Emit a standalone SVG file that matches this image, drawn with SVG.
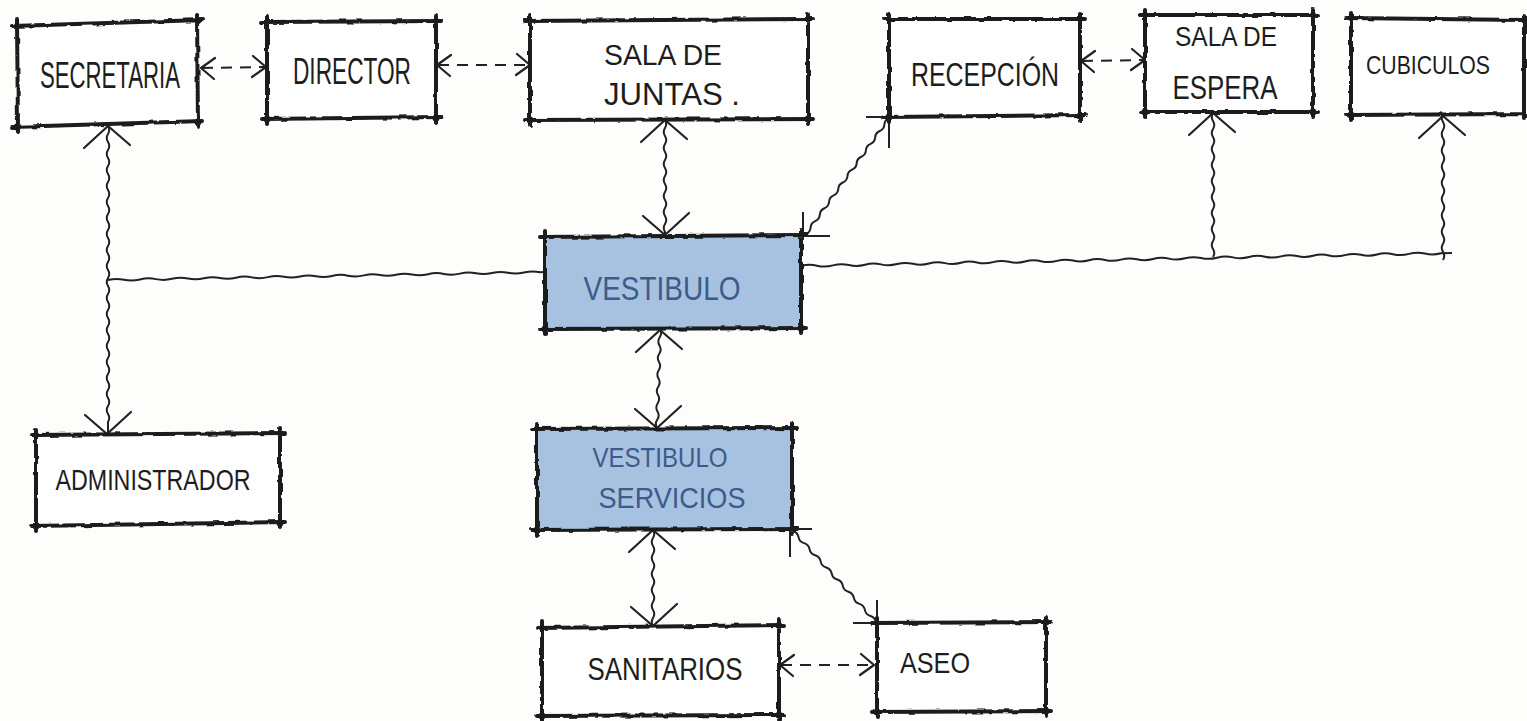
<svg xmlns="http://www.w3.org/2000/svg" width="1527" height="721" viewBox="0 0 1527 721">
<style>
.bg{fill:#fdfdfc}
.fillw{fill:#ffffff}
.fillb{fill:#a7c1e1}
.edge{fill:none;stroke:#1b1b1b;stroke-width:4;stroke-linecap:round;filter:url(#rough)}
.dot{fill:#1b1b1b}
.wave{fill:none;stroke:#222;stroke-width:2;stroke-linejoin:round}
.dash{fill:none;stroke:#222;stroke-width:2;stroke-dasharray:11 8}
.tick{fill:none;stroke:#222;stroke-width:2}
.ah{fill:none;stroke:#222;stroke-width:2.2;stroke-linecap:round;stroke-linejoin:round}
.lbl{font-family:"Liberation Sans Narrow","Liberation Sans","DejaVu Sans Condensed",sans-serif;fill:#1d1d1d;text-anchor:middle}
.lblb{fill:#3d5b8a}
</style>
<defs>
<filter id="rough" x="-10%" y="-10%" width="120%" height="120%">
<feTurbulence type="fractalNoise" baseFrequency="0.09" numOctaves="2" seed="4"/>
<feDisplacementMap in="SourceGraphic" scale="3.5" xChannelSelector="R" yChannelSelector="G"/>
</filter>
<path id="ah" class="ah" d="M-24,22 L0,0 L22,19"/>
<path id="ahs" class="ah" d="M-11,13 L0,0 L10,14"/>
</defs>
<rect class="bg" x="0" y="0" width="1527" height="721"/>

<g id="connectors">
<path class="dash" d="M202,68 L264,67"/>
<path class="dash" d="M438,65 L529,65"/>
<path class="dash" d="M1082,61 L1144,60"/>
<path class="dash" d="M781,665 L873,665"/>
<use href="#ahs" transform="translate(201,68) rotate(-90)"/>
<use href="#ahs" transform="translate(266,67) rotate(90)"/>
<use href="#ahs" transform="translate(437,65) rotate(-90)"/>
<use href="#ahs" transform="translate(530,65) rotate(90)"/>
<use href="#ahs" transform="translate(1081,61) rotate(-90)"/>
<use href="#ahs" transform="translate(1145,60) rotate(90)"/>
<use href="#ahs" transform="translate(780,665) rotate(-90)"/>
<use href="#ahs" transform="translate(874,665) rotate(90)"/>

<path class="wave" d="M108,126 q2.5,4 0,8 t0,8 t0,8 t0,8 t0,8 t0,8 t0,8 t0,8 t0,8 t0,8 t0,8 t0,8 t0,8 t0,8 t0,8 t0,8 t0,8 t0,8 t0,8 t0,8 t0,8 t0,8 t0,8 t0,8 t0,8 t0,8 t0,8 t0,8 t0,8 t0,8 t0,8 t0,8 t0,8 t0,8 t0,8 t0,8 t0,8 L108,434"/>
<use href="#ah" transform="translate(108,126)"/>
<use href="#ah" transform="translate(107,434) rotate(180)"/>
<path class="wave" d="M108,280 q8,-2 16,-0.29 t16,-0.29 t16,-0.29 t16,-0.29 t16,-0.29 t16,-0.29 t16,-0.29 t16,-0.29 t16,-0.29 t16,-0.29 t16,-0.29 t16,-0.29 t16,-0.29 t16,-0.29 t16,-0.29 t16,-0.29 t16,-0.29 t16,-0.29 t16,-0.29 t16,-0.29 t16,-0.29 t16,-0.29 t16,-0.29 t16,-0.29 t16,-0.29 t16,-0.29 t16,-0.29 L545,272"/>

<path class="wave" d="M665,120 q2.5,4 0,8 t0,8 t0,8 t0,8 t0,8 t0,8 t0,8 t0,8 t0,8 t0,8 t0,8 t0,8 t0,8 t0,8 L665,236"/>
<use href="#ah" transform="translate(665,120)"/>
<use href="#ah" transform="translate(665,235) rotate(180)"/>

<path class="wave" d="M806,234 q4.33,-1.76 4.61,-6.44 t4.61,-6.44 t4.61,-6.44 t4.61,-6.44 t4.61,-6.44 t4.61,-6.44 t4.61,-6.44 t4.61,-6.44 t4.61,-6.44 t4.61,-6.44 t4.61,-6.44 t4.61,-6.44 t4.61,-6.44 t4.61,-6.44 t4.61,-6.44 t4.61,-6.44 t4.61,-6.44 t4.61,-6.44"/>
<path class="tick" d="M801,236 L830,236 M803,212 L803,240 M889,116 L889,148 M866,117 L889,117"/>

<path class="wave" d="M801,266 q8,-2.2 16,-0.32 t16,-0.32 t16,-0.32 t16,-0.32 t16,-0.32 t16,-0.32 t16,-0.32 t16,-0.32 t16,-0.32 t16,-0.32 t16,-0.32 t16,-0.32 t16,-0.32 t16,-0.32 t16,-0.32 t16,-0.32 t16,-0.32 t16,-0.32 t16,-0.32 t16,-0.32 t16,-0.32 t16,-0.32 t16,-0.32 t16,-0.32 t16,-0.32 t16,-0.32 t16,-0.32 t16,-0.32 t16,-0.32 t16,-0.32 t16,-0.32 t16,-0.32 t16,-0.32 t16,-0.32 t16,-0.32 t16,-0.32 t16,-0.32 t16,-0.32 t16,-0.32 t16,-0.32 L1452,253"/>
<path class="wave" d="M1213,257 q2.5,-4 0,-8 t0,-8 t0,-8 t0,-8 t0,-8 t0,-8 t0,-8 t0,-8 t0,-8 t0,-8 t0,-8 t0,-8 t0,-8 t0,-8 t0,-8 t0,-8 t0,-8 t0,-8"/>
<use href="#ah" transform="translate(1213,113)"/>
<path class="wave" d="M1443,260 q2.5,-4.06 0,-8.12 t0,-8.12 t0,-8.12 t0,-8.12 t0,-8.12 t0,-8.12 t0,-8.12 t0,-8.12 t0,-8.12 t0,-8.12 t0,-8.12 t0,-8.12 t0,-8.12 t0,-8.12 t0,-8.12 t0,-8.12 t0,-8.12 t0,-8.12"/>
<use href="#ah" transform="translate(1443,116)"/>

<path class="wave" d="M660,329 q2.5,4.1 -0.25,8.25 t-0.25,8.25 t-0.25,8.25 t-0.25,8.25 t-0.25,8.25 t-0.25,8.25 t-0.25,8.25 t-0.25,8.25 t-0.25,8.25 t-0.25,8.25 t-0.25,8.25 t-0.25,8.25"/>
<use href="#ah" transform="translate(660,330)"/>
<use href="#ah" transform="translate(657,428) rotate(180)"/>

<path class="wave" d="M653,530 q2.5,4 0,8 t0,8 t0,8 t0,8 t0,8 t0,8 t0,8 t0,8 t0,8 t0,8 t0,8 t0,8"/>
<use href="#ah" transform="translate(653,530)"/>
<use href="#ah" transform="translate(653,626) rotate(180)"/>

<path class="wave" d="M793,531 q4.62,1.34 5.53,6.07 t5.53,6.07 t5.53,6.07 t5.53,6.07 t5.53,6.07 t5.53,6.07 t5.53,6.07 t5.53,6.07 t5.53,6.07 t5.53,6.07 t5.53,6.07 t5.53,6.07 t5.53,6.07 t5.53,6.07 t5.53,6.07"/>
<path class="tick" d="M790,529 L790,557 M792,529 L812,529 M853,623 L875,623 M877,600 L877,623"/>
</g>

<g id="secretaria">
<rect class="fillw" x="17" y="23" width="182" height="100"/>
<path class="edge" d="M12,26 L203,20 M197,15 L198,127 M203,121 L12,127 M18,131 L17,19"/>
<circle class="dot" cx="198" cy="21" r="3"/><circle class="dot" cx="198" cy="122" r="3.5"/><circle class="dot" cx="17" cy="127" r="3.5"/><circle class="dot" cx="17" cy="26" r="3"/>
<text class="lbl" x="110" y="88" font-size="36" textLength="140" lengthAdjust="spacingAndGlyphs">SECRETARIA</text>
</g>

<g id="director">
<rect class="fillw" x="267" y="21" width="169" height="97"/>
<path class="edge" d="M262,22 L441,21 M436,16 L436,122 M441,117 L262,119 M267,124 L267,16"/>
<circle class="dot" cx="436" cy="21" r="3"/><circle class="dot" cx="436" cy="118" r="3.5"/><circle class="dot" cx="267" cy="119" r="3.5"/>
<text class="lbl" x="352" y="84" font-size="36" textLength="118" lengthAdjust="spacingAndGlyphs">DIRECTOR</text>
</g>

<g id="sala-juntas">
<rect class="fillw" x="530" y="20" width="278" height="99"/>
<path class="edge" d="M525,21 L813,19 M808,14 L808,124 M813,119 L525,120 M530,126 L530,15"/>
<circle class="dot" cx="808" cy="19" r="3"/><circle class="dot" cx="808" cy="119" r="3.5"/><circle class="dot" cx="530" cy="120" r="3.5"/>
<text class="lbl" x="663" y="65" font-size="30" textLength="118" lengthAdjust="spacingAndGlyphs">SALA DE</text>
<text class="lbl" x="672" y="105" font-size="32" textLength="136" lengthAdjust="spacingAndGlyphs">JUNTAS .</text>
</g>

<g id="recepcion">
<rect class="fillw" x="889" y="18" width="191" height="98"/>
<path class="edge" d="M884,19 L1085,19 M1080,14 L1080,121 M1085,115 L884,117 M889,122 L889,14"/>
<circle class="dot" cx="1080" cy="19" r="3"/><circle class="dot" cx="1080" cy="116" r="3.5"/><circle class="dot" cx="889" cy="117" r="3.5"/>
<text class="lbl" x="985" y="86" font-size="34" textLength="148" lengthAdjust="spacingAndGlyphs">RECEPCIÓN</text>
</g>

<g id="sala-espera">
<rect class="fillw" x="1145" y="15" width="168" height="97"/>
<path class="edge" d="M1140,15 L1318,15 M1313,10 L1313,117 M1318,112 L1140,112 M1145,117 L1145,10"/>
<circle class="dot" cx="1313" cy="15" r="3"/><circle class="dot" cx="1313" cy="112" r="3.5"/><circle class="dot" cx="1145" cy="112" r="3.5"/><circle class="dot" cx="1145" cy="15" r="3"/>
<text class="lbl" x="1226" y="46" font-size="28" textLength="102" lengthAdjust="spacingAndGlyphs">SALA DE</text>
<text class="lbl" x="1225" y="99" font-size="34" textLength="105" lengthAdjust="spacingAndGlyphs">ESPERA</text>
</g>

<g id="cubiculos">
<rect class="fillw" x="1351" y="17" width="173" height="98"/>
<path class="edge" d="M1346,18 L1524,20 M1524,114 L1346,115 M1351,120 L1351,13 M1524,16 L1524,118"/>
<circle class="dot" cx="1351" cy="115" r="3.5"/><circle class="dot" cx="1351" cy="18" r="3"/>
<text class="lbl" x="1428" y="74" font-size="26" textLength="124" lengthAdjust="spacingAndGlyphs">CUBICULOS</text>
</g>

<g id="vestibulo">
<rect class="fillb" x="545" y="236" width="256" height="92"/>
<path class="edge" d="M540,237 L806,235 M801,230 L801,333 M806,328 L540,329 M545,334 L545,231"/>
<circle class="dot" cx="801" cy="328" r="3.5"/><circle class="dot" cx="545" cy="329" r="3.5"/>
<text class="lbl lblb" x="662" y="300" font-size="34" textLength="157" lengthAdjust="spacingAndGlyphs">VESTIBULO</text>
</g>

<g id="administrador">
<rect class="fillw" x="36" y="434" width="244" height="92"/>
<path class="edge" d="M31,435 L285,433 M280,428 L280,527 M285,522 L31,526 M36,531 L36,429"/>
<circle class="dot" cx="280" cy="433" r="3"/><circle class="dot" cx="280" cy="523" r="3.5"/><circle class="dot" cx="36" cy="526" r="3.5"/><circle class="dot" cx="36" cy="435" r="3"/>
<text class="lbl" x="153" y="490" font-size="30" textLength="195" lengthAdjust="spacingAndGlyphs">ADMINISTRADOR</text>
</g>

<g id="vestibulo-servicios">
<rect class="fillb" x="537" y="429" width="255" height="100"/>
<path class="edge" d="M532,429 L797,428 M792,423 L792,534 M797,529 L532,530 M537,535 L537,424"/>
<circle class="dot" cx="792" cy="428" r="3"/><circle class="dot" cx="537" cy="530" r="3.5"/>
<text class="lbl lblb" x="660" y="467" font-size="28" textLength="135" lengthAdjust="spacingAndGlyphs">VESTIBULO</text>
<text class="lbl lblb" x="672" y="508" font-size="30" textLength="147" lengthAdjust="spacingAndGlyphs">SERVICIOS</text>
</g>

<g id="sanitarios">
<rect class="fillw" x="542" y="626" width="237" height="89"/>
<path class="edge" d="M537,628 L784,625 M779,620 L779,720 M784,715 L537,716 M542,721 L542,621"/>
<circle class="dot" cx="779" cy="625" r="3"/><circle class="dot" cx="779" cy="715" r="3.5"/><circle class="dot" cx="542" cy="716" r="3.5"/><circle class="dot" cx="542" cy="628" r="3"/>
<text class="lbl" x="665" y="680" font-size="32" textLength="155" lengthAdjust="spacingAndGlyphs">SANITARIOS</text>
</g>

<g id="aseo">
<rect class="fillw" x="877" y="623" width="169" height="88"/>
<path class="edge" d="M872,623 L1051,622 M1046,617 L1046,716 M1051,711 L872,712 M877,717 L877,618"/>
<circle class="dot" cx="1046" cy="622" r="3.5"/><circle class="dot" cx="1046" cy="711" r="3.5"/><circle class="dot" cx="877" cy="712" r="3.5"/>
<text class="lbl" x="935" y="673" font-size="30" textLength="70" lengthAdjust="spacingAndGlyphs">ASEO</text>
</g>
</svg>
